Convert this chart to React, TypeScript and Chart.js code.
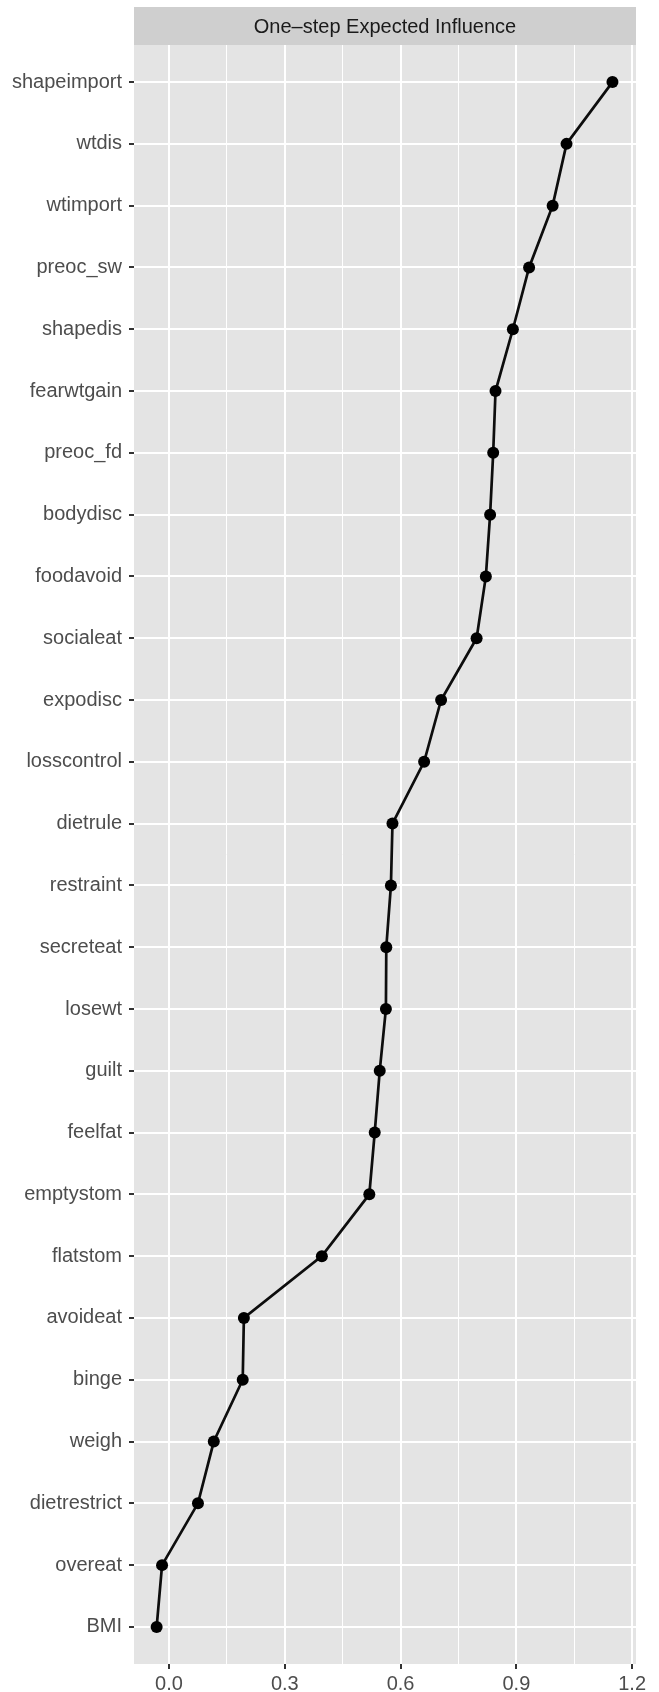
import React, { useEffect, useRef } from "react";
import { Chart, registerables } from "chart.js";

Chart.register(...registerables);

const categories = [
  "shapeimport", "wtdis", "wtimport", "preoc_sw", "shapedis", "fearwtgain",
  "preoc_fd", "bodydisc", "foodavoid", "socialeat", "expodisc", "losscontrol",
  "dietrule", "restraint", "secreteat", "losewt", "guilt", "feelfat",
  "emptystom", "flatstom", "avoideat", "binge", "weigh", "dietrestrict",
  "overeat", "BMI",
];

const values = [
  1.149, 1.030, 0.994, 0.933, 0.891, 0.846,
  0.840, 0.832, 0.821, 0.797, 0.705, 0.661,
  0.579, 0.575, 0.563, 0.562, 0.546, 0.533,
  0.519, 0.396, 0.194, 0.191, 0.116, 0.075,
  -0.018, -0.032,
];

const xTickLabels = ["0.0", "0.3", "0.6", "0.9", "1.2"];
const stripTitle = "One\u2013step Expected Influence";

const FONT = "'Liberation Sans', Arial, sans-serif";

export default function App() {
  const ref = useRef<HTMLCanvasElement | null>(null);

  useEffect(() => {
    document.body.style.margin = "0";
    const canvas = ref.current;
    if (!canvas) return;

    const stripPlugin = {
      id: "ggStrip",
      beforeDraw(chart: any) {
        const { ctx, chartArea } = chart;
        ctx.save();
        ctx.fillStyle = "#E4E4E4";
        ctx.fillRect(chartArea.left, chartArea.top, chartArea.right - chartArea.left, chartArea.bottom - chartArea.top);
        ctx.fillStyle = "#CFCFCF";
        ctx.fillRect(chartArea.left, 7, chartArea.right - chartArea.left, chartArea.top - 7);
        ctx.fillStyle = "#1A1A1A";
        ctx.font = `20px ${FONT}`;
        ctx.textAlign = "center";
        ctx.textBaseline = "middle";
        ctx.fillText(stripTitle, (chartArea.left + chartArea.right) / 2, (7 + chartArea.top) / 2 + 1);
        ctx.restore();
      },
    };

    const isMajor = (v: number) => Math.abs(Math.round(v / 0.15)) % 2 === 0;

    const chart = new Chart(canvas, {
      type: "scatter",
      data: {
        datasets: [
          {
            data: values.map((v, i) => ({ x: v, y: i })),
            showLine: true,
            borderColor: "#0D0D0D",
            borderWidth: 2.7,
            backgroundColor: "#000000",
            pointBackgroundColor: "#000000",
            pointBorderWidth: 0,
            pointRadius: 6,
            tension: 0,
          },
        ],
      },
      options: {
        animation: false,
        responsive: false,
        devicePixelRatio: 1,
        layout: { padding: { top: 45, right: 23, left: 0, bottom: 0 } },
        plugins: {
          legend: { display: false },
          tooltip: { enabled: false },
          title: { display: false },
        },
        scales: {
          x: {
            type: "linear",
            min: -0.0907,
            max: 1.21,
            border: { display: false },
            grid: {
              color: "#FFFFFF",
              lineWidth: (c: any) => (isMajor(c.tick ? c.tick.value : 0) ? 2 : 1),
              tickColor: (c: any) => (isMajor(c.tick ? c.tick.value : 0) ? "#333333" : "rgba(0,0,0,0)"),
              tickWidth: 2,
              tickLength: 5,
            },
            ticks: {
              stepSize: 0.15,
              includeBounds: false,
              autoSkip: false,
              maxRotation: 0,
              padding: 3,
              color: "#4D4D4D",
              font: { family: FONT, size: 20 },
              callback: (v: any) => {
                const n = Number(v);
                if (!isMajor(n)) return "";
                const idx = Math.round(n / 0.3);
                return xTickLabels[idx] ?? "";
              },
            },
            afterFit: (scale: any) => {
              scale.height = 28;
            },
          },
          y: {
            type: "linear",
            reverse: true,
            min: -0.6,
            max: 25.6,
            border: { display: false },
            grid: {
              color: "#FFFFFF",
              lineWidth: 2,
              tickColor: "#333333",
              tickWidth: 2,
              tickLength: 5,
            },
            ticks: {
              stepSize: 1,
              includeBounds: false,
              autoSkip: false,
              padding: 7,
              color: "#4D4D4D",
              font: { family: FONT, size: 20 },
              callback: (v: any) => categories[Math.round(Number(v))] ?? "",
            },
            afterFit: (scale: any) => {
              scale.width = 134;
            },
          },
        },
      },
      plugins: [stripPlugin],
    } as any);

    return () => chart.destroy();
  }, []);

  return (
    <div style={{ width: 659, height: 1692 }}>
      <canvas ref={ref} width={659} height={1692} style={{ display: "block" }} />
    </div>
  );
}
